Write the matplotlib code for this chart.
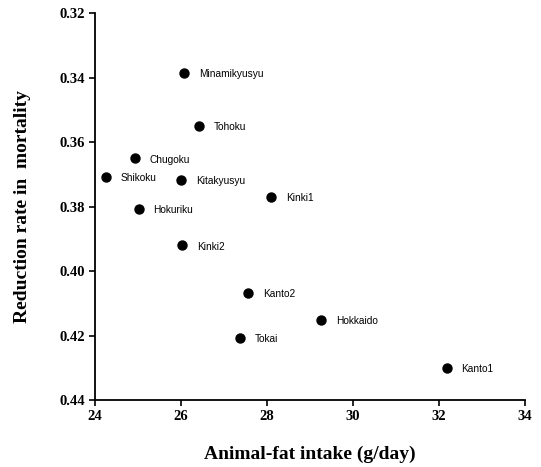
import matplotlib
matplotlib.use('Agg')
import matplotlib.pyplot as plt

regions = ['Minamikyusyu', 'Tohoku', 'Chugoku', 'Shikoku', 'Kitakyusyu', 'Hokuriku',
           'Kinki1', 'Kinki2', 'Kanto2', 'Tokai', 'Hokkaido', 'Kanto1']
fat_intake = [26.07, 26.42, 24.93, 24.26, 26.0, 25.02, 28.1, 26.03, 27.56, 27.37, 29.26, 32.19]
reduction = [0.3386, 0.355, 0.365, 0.3708, 0.3718, 0.3808, 0.377, 0.392, 0.4068, 0.4208, 0.4152, 0.430]

xticks = [24, 26, 28, 30, 32, 34]
yticks = [0.32, 0.34, 0.36, 0.38, 0.40, 0.42, 0.44]

fig = plt.figure(figsize=(5.41, 4.67), dpi=100)
ax = fig.add_axes([0.176, 0.1435, 0.794, 0.8285])

ax.scatter(fat_intake, reduction, s=42, color='black', zorder=3)
for name, x, y in zip(regions, fat_intake, reduction):
    ax.annotate(name, (x, y), xytext=(10.5, -1), textcoords='offset points',
                fontsize=7.3, family='Liberation Sans', va='center', ha='left')

ax.set_xlim(24, 34)
ax.set_ylim(0.44, 0.32)
ax.set_xticks(xticks)
ax.set_yticks(yticks)
ax.set_xticklabels([str(t) for t in xticks], family='Liberation Serif', fontweight='bold', fontsize=10.5)
ax.set_yticklabels(['%.2f' % t for t in yticks], family='Liberation Serif', fontweight='bold', fontsize=10.5)
ax.spines['top'].set_visible(False)
ax.spines['right'].set_visible(False)
ax.spines['left'].set_linewidth(1.3)
ax.spines['bottom'].set_linewidth(1.3)
ax.tick_params(direction='out', length=4, width=1.2)

ax.set_xlabel('Animal-fat intake (g/day)', family='Liberation Serif', fontweight='bold',
              fontsize=14, labelpad=16)
ax.set_ylabel('Reduction rate in  mortality', family='Liberation Serif', fontweight='bold',
              fontsize=14, labelpad=20)

fig.savefig('out.png', dpi=100)
